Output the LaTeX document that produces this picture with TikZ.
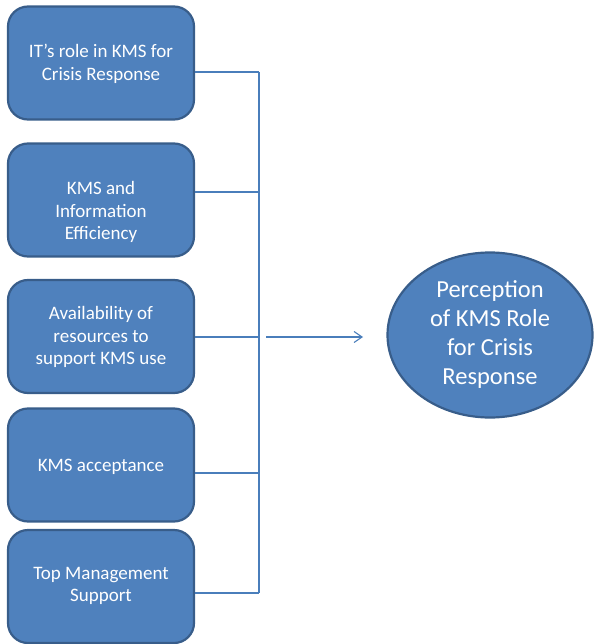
\documentclass[tikz,border=0pt]{standalone}
\usepackage{fontspec}
\setmainfont{Carlito}
\usetikzlibrary{shapes.geometric,arrows.meta}
\definecolor{boxblue}{HTML}{4F81BD}
\definecolor{boxedge}{HTML}{385D8A}
\definecolor{linkblue}{HTML}{4A7EBB}
\tikzset{
  kbox/.style={rectangle, rounded corners=20pt, fill=boxblue, draw=boxedge, line width=2.2pt,
    minimum width=186pt, minimum height=113pt, inner sep=0pt},
  ktext/.style={text=white, align=center, font=\fontsize{19}{22.5}\selectfont, inner sep=0pt},
  conn/.style={draw=linkblue, line width=1.1pt},
  goal/.style={ellipse, fill=boxblue, draw=boxedge, line width=2.2pt, minimum width=205pt,
    minimum height=165pt, inner sep=0pt, text=white, align=center,
    font=\fontsize{24.5}{29}\selectfont}
}
\begin{document}
\begin{tikzpicture}[x=1pt,y=-1pt]
\useasboundingbox (0,0) rectangle (594,644);
\node[kbox] (b1) at (101,63) {};
\node[kbox] (b2) at (101,200) {};
\node[kbox] (b3) at (101,336.5) {};
\node[kbox] (b4) at (101,465) {};
\node[kbox] (b5) at (101,586.5) {};
\node[ktext] (t1) at (101,64) {IT’s role in KMS for\\Crisis Response};
\node[ktext] (t2) at (101,212) {KMS and\\Information\\Efficiency};
\node[ktext] (t3) at (101,337) {Availability of\\resources to\\support KMS use};
\node[ktext] (t4) at (101,467) {KMS acceptance};
\node[ktext] (t5) at (101,586) {Top Management\\Support};
\node[goal] (g) at (490,335) {Perception\\of KMS Role\\for Crisis\\Response};
\coordinate (j1) at (259,72);
\coordinate (j2) at (259,192);
\coordinate (j3) at (259,337);
\coordinate (j4) at (259,473);
\coordinate (j5) at (259,593);
\draw[conn] (b1.east |- j1) -- (j1);
\draw[conn] (b2.east |- j2) -- (j2);
\draw[conn] (b3.east |- j3) -- (j3);
\draw[conn] (b4.east |- j4) -- (j4);
\draw[conn] (b5.east |- j5) -- (j5);
\draw[conn] (j1) -- (j5);
\coordinate (a0) at (266,337);
\coordinate (a1) at (363,337);
\draw[conn, -{Straight Barb[length=8pt,width=11pt]}] (a0) -- (a1);
\end{tikzpicture}
\end{document}
